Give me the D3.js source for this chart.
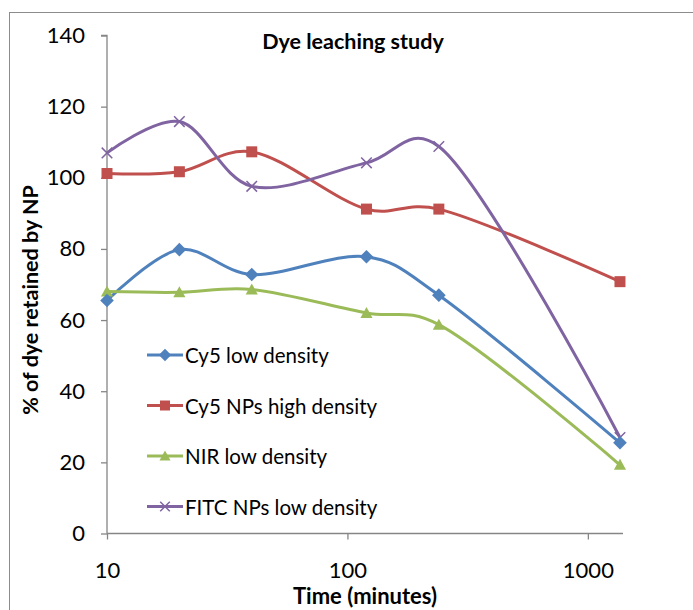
<!DOCTYPE html>
<html>
<head>
<meta charset="utf-8">
<script src="https://cdn.jsdelivr.net/npm/d3@7"></script>
<style>
  html, body { margin: 0; padding: 0; background: #fff; }
  svg { display: block; }
</style>
</head>
<body>
<svg id="chart" width="693" height="610"></svg>
<script>
// ---- data ----
const times = [10, 20, 40, 120, 240, 1360];
const seriesNames = ["Cy5 low density", "Cy5 NPs high density", "NIR low density", "FITC NPs low density"];
const cy5Low   = [65.5, 79.8, 72.8, 77.8, 67.0, 25.5];
const cy5High  = [101.2, 101.7, 107.3, 91.2, 91.2, 70.8];
const nirLow   = [68.0, 67.8, 68.6, 62.0, 58.7, 19.3];
const fitcLow  = [107.0, 115.8, 97.6, 104.2, 108.8, 27.0];
const yTicks = [0, 20, 40, 60, 80, 100, 120, 140];
const xTicks = [10, 100, 1000];
const title = "Dye leaching study";
const xTitle = "Time (minutes)";
const yTitle = "% of dye retained by NP";

const colors = ["#4F81BD", "#C0504D", "#9BBB59", "#8064A2"];
const shapes = ["diamond", "square", "triangle", "x"];
const allValues = [cy5Low, cy5High, nirLow, fitcLow];

const svg = d3.select("#chart");
const pLeft = 107, pRight = 623, pTop = 35.5, pBottom = 533.5;

const x = d3.scaleLog().domain([10, 1400]).range([pLeft, pRight]);
const y = d3.scaleLinear().domain([0, 140]).range([pBottom, pTop]);

// outer frame
svg.append("rect")
  .attr("x", 9.5).attr("y", 12.5)
  .attr("width", 720).attr("height", 640)
  .attr("fill", "none").attr("stroke", "#8c8c8c").attr("stroke-width", 1);

const axisColor = "#868686";
const font = "Lato, 'Liberation Sans', Arial, sans-serif";

// y axis
const yAxis = svg.append("g").attr("transform", `translate(${pLeft},0)`)
  .call(d3.axisLeft(y).tickValues(yTicks).tickSize(6).tickPadding(16).tickFormat(d3.format("d")));
yAxis.select(".domain").attr("stroke", axisColor).attr("stroke-width", 1.3)
  .attr("d", `M-6,${pTop}H0V${pBottom}`);
yAxis.selectAll(".tick line").attr("stroke", axisColor).attr("stroke-width", 1.3);
yAxis.selectAll(".tick text").attr("fill", "#000").style("font-family", font).style("font-size", "22px");

// x axis
const xAxis = svg.append("g").attr("transform", `translate(0,${pBottom})`)
  .call(d3.axisBottom(x).tickValues(xTicks).tickSize(6).tickPadding(23).tickFormat(d3.format("d")));
xAxis.select(".domain").attr("stroke", axisColor).attr("stroke-width", 1.3)
  .attr("d", `M${pLeft},0H${pRight}`);
xAxis.selectAll(".tick line").attr("stroke", axisColor).attr("stroke-width", 1.3);
xAxis.selectAll(".tick text").attr("fill", "#000").style("font-family", font).style("font-size", "22px");

// lines
const line = d3.line()
  .x((d, i) => x(times[i]))
  .y(d => y(d))
  .curve(d3.curveCatmullRom.alpha(0.25));

allValues.forEach((vals, k) => {
  svg.append("path")
    .datum(vals)
    .attr("d", line)
    .attr("fill", "none")
    .attr("stroke", colors[k])
    .attr("stroke-width", 3)
    .attr("stroke-linejoin", "round");
});

function marker(g, shape, cx, cy, color, s) {
  if (shape === "diamond") {
    g.append("path").attr("d", `M${cx},${cy - s * 0.62}L${cx + s * 0.62},${cy}L${cx},${cy + s * 0.62}L${cx - s * 0.62},${cy}Z`)
      .attr("fill", color);
  } else if (shape === "square") {
    g.append("rect").attr("x", cx - s / 2).attr("y", cy - s / 2).attr("width", s).attr("height", s)
      .attr("fill", color);
  } else if (shape === "triangle") {
    g.append("path").attr("d", `M${cx},${cy - s * 0.55}L${cx + s * 0.55},${cy + s * 0.45}L${cx - s * 0.55},${cy + s * 0.45}Z`)
      .attr("fill", color);
  } else {
    const h = s * 0.48;
    g.append("path").attr("d", `M${cx - h},${cy - h}L${cx + h},${cy + h}M${cx - h},${cy + h}L${cx + h},${cy - h}`)
      .attr("stroke", color).attr("stroke-width", 1.5).attr("fill", "none");
  }
}

// markers (drawn in reverse so first series sits on top)
for (let k = allValues.length - 1; k >= 0; k--) {
  const g = svg.append("g");
  allValues[k].forEach((v, i) => marker(g, shapes[k], x(times[i]), y(v), colors[k], 11));
}

// legend
const legend = svg.append("g");
const legendY = [355, 405.5, 456, 506.5];
seriesNames.forEach((name, k) => {
  const yy = legendY[k];
  legend.append("line").attr("x1", 147).attr("x2", 183).attr("y1", yy).attr("y2", yy)
    .attr("stroke", colors[k]).attr("stroke-width", 3);
  marker(legend, shapes[k], 165, yy, colors[k], 10);
  legend.append("text").attr("x", 185).attr("y", yy + 8)
    .style("font-family", font)
    .style("font-size", "20.5px")
    .attr("fill", "#000")
    .text(name);
});

// titles
svg.append("text").attr("x", 353).attr("y", 49).attr("text-anchor", "middle")
  .style("font-family", font).style("font-weight", "bold").style("font-size", "21.5px")
  .text(title);
svg.append("text").attr("x", 365).attr("y", 604).attr("text-anchor", "middle")
  .style("font-family", font).style("font-weight", "bold").style("font-size", "22px")
  .text(xTitle);
svg.append("text").attr("transform", "translate(38,300) rotate(-90)").attr("text-anchor", "middle")
  .style("font-family", font).style("font-weight", "bold").style("font-size", "21.5px")
  .text(yTitle);
</script>
</body>
</html>
